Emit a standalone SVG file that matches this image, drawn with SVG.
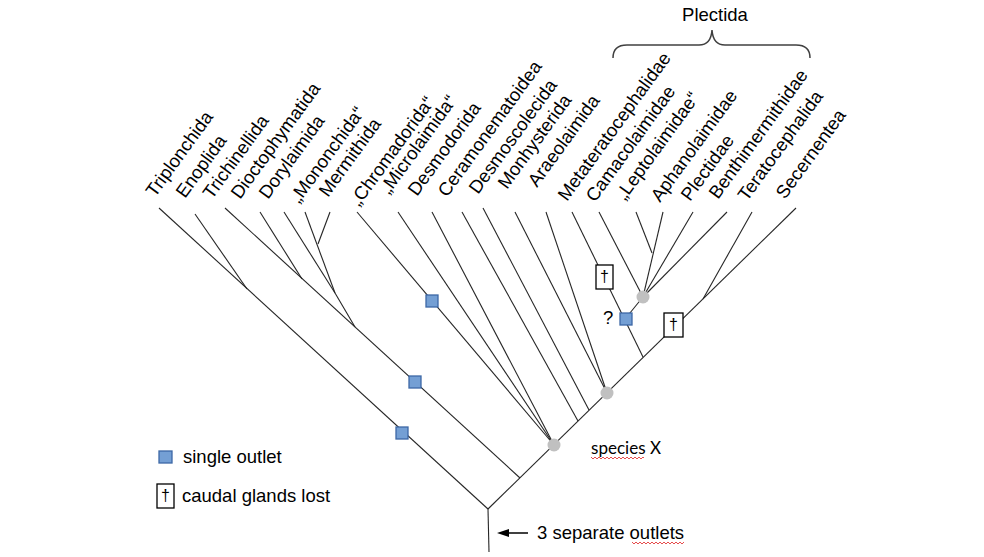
<svg xmlns="http://www.w3.org/2000/svg" width="984" height="557" viewBox="0 0 984 557">
<defs>
<style>
.lbl{font-family:"Liberation Sans",Arial,sans-serif;font-size:18.5px;fill:#000}
.br{stroke:#262626;stroke-width:1.1;fill:none}
.sq{fill:#749fd4;stroke:#3d68a6;stroke-width:1.3}
.nd{fill:#c0c0c0}
.dg{fill:#fff;stroke:#000;stroke-width:1.3}
.dag{font-family:"Liberation Sans",Arial,sans-serif;font-size:16px;text-anchor:middle}
.wavy{fill:none;stroke:#e02020;stroke-width:0.8}
</style>
</defs>
<rect width="984" height="557" fill="#fff"/>

<g id="connectors">
<path class="br" d="M159,208 L488,509"/>
<path class="br" d="M195,214 L247,289"/>
<path class="br" d="M225,208 L520,478"/>
<path class="br" d="M260,212 L302,279"/>
<path class="br" d="M284,212 L335,293"/>
<path class="br" d="M305,212 L335,293"/>
<path class="br" d="M330,212 L318,244"/>
<path class="br" d="M335,293 L355,327"/>
<path class="br" d="M357,212 L554,445"/>
<path class="br" d="M398,212 L554,445"/>
<path class="br" d="M432,212 L554,445"/>
<path class="br" d="M462,212 L578,421"/>
<path class="br" d="M483,208 L589,410"/>
<path class="br" d="M515,212 L607,393"/>
<path class="br" d="M546,212 L607,393"/>
<path class="br" d="M572,212 L643,357"/>
<path class="br" d="M599,212 L643,297"/>
<path class="br" d="M636,212 L652,253"/>
<path class="br" d="M663,212 L643,297"/>
<path class="br" d="M693,212 L643,297"/>
<path class="br" d="M727,212 L643,297"/>
<path class="br" d="M643,297 L625,319"/>
<path class="br" d="M752,212 L703,299"/>
<path class="br" d="M488,509 L796,208"/>
<path class="br" d="M488,509 L489,552"/>
<g id="arrow">
<path d="M528,533 L507,533" stroke="#000" stroke-width="1.5" fill="none"/>
<path d="M497,533 L509,529 L509,537 z" fill="#000"/>
</g>
</g>

<g id="nodes">
<circle id="speciesX-node" class="nd" cx="554" cy="445" r="6.5"/>
<circle id="node2" class="nd" cx="607" cy="393" r="6.5"/>
<circle id="plectid-node" class="nd" cx="643" cy="297" r="6.5"/>
<rect id="sq-chromadorida" class="sq" x="426" y="295" width="12" height="12"/>
<rect id="sq-trichinellida" class="sq" x="409" y="376" width="12" height="12"/>
<rect id="sq-triplonchida" class="sq" x="396" y="427" width="12" height="12"/>
<rect id="sq-plectida" class="sq" x="620" y="313" width="12" height="12"/>
<g id="dagger-metatera"><rect class="dg" x="596" y="265" width="17" height="24"/><text class="dag" x="604.5" y="282">†</text></g>
<g id="dagger-trunk"><rect class="dg" x="664" y="313" width="19" height="24"/><text class="dag" x="673.5" y="330">†</text></g>
<text id="qmark" class="lbl" x="603" y="324">?</text>
</g>

<g id="labels">
<text class="lbl" transform="translate(155,198) rotate(-54)">Triplonchida</text>
<text class="lbl" transform="translate(185,199) rotate(-54)">Enoplida</text>
<text class="lbl" transform="translate(212,200) rotate(-54)">Trichinellida</text>
<text class="lbl" transform="translate(240,200) rotate(-54)">Dioctophymatida</text>
<text class="lbl" transform="translate(268,200) rotate(-54)">Dorylaimida</text>
<text class="lbl" transform="translate(299,204) rotate(-54)">„Mononchida“</text>
<text class="lbl" transform="translate(328,198) rotate(-54)">Mermithida</text>
<text class="lbl" transform="translate(359,207) rotate(-54)">„Chromadorida“</text>
<text class="lbl" transform="translate(389,195) rotate(-54)">„Microlaimida“</text>
<text class="lbl" transform="translate(417,197) rotate(-54)">Desmodorida</text>
<text class="lbl" transform="translate(447,198) rotate(-54)">Ceramonematoidea</text>
<text class="lbl" transform="translate(478,195) rotate(-54)">Desmoscolecida</text>
<text class="lbl" transform="translate(507,190) rotate(-54)">Monhysterida</text>
<text class="lbl" transform="translate(537,188) rotate(-54)">Araeolaimida</text>
<text class="lbl" transform="translate(567,202) rotate(-54)">Metateratocephalidae</text>
<text class="lbl" transform="translate(595,203) rotate(-54)">Camacolaimidae</text>
<text class="lbl" transform="translate(625,201) rotate(-54)">„Leptolaimidae“</text>
<text class="lbl" transform="translate(660,203) rotate(-54)">Aphanolaimidae</text>
<text class="lbl" transform="translate(690,202) rotate(-54)">Plectidae</text>
<text class="lbl" transform="translate(718,200) rotate(-54)">Benthimermithidae</text>
<text class="lbl" transform="translate(747,202) rotate(-54)">Teratocephalida</text>
<text class="lbl" transform="translate(785,200) rotate(-54)">Secernentea</text>
</g>

<g id="plectida-bracket">
<path d="M613,58 Q613,45 627,45 L699,45 Q711,45 712,30 Q713,45 725,45 L796,45 Q810,45 810,58" fill="none" stroke="#404040" stroke-width="1.5"/>
<text class="lbl" x="715" y="21" text-anchor="middle">Plectida</text>
</g>

<g id="annotations">
<text x="591" y="454" font-family="Lato,'Open Sans',sans-serif" font-size="18" textLength="70" lengthAdjust="spacingAndGlyphs">species X</text>
<path class="wavy" d="M591,457 l2,2 l2,-2 l2,2 l2,-2 l2,2 l2,-2 l2,2 l2,-2 l2,2 l2,-2 l2,2 l2,-2 l2,2 l2,-2 l2,2 l2,-2 l2,2 l2,-2 l2,2 l2,-2 l2,2 l2,-2 l2,2 l2,-2 l2,2 l2,-2 l1,1"/>
<text class="lbl" x="537" y="539" font-size="18.67">3 separate outlets</text>
<path class="wavy" d="M632,542 l2,2 l2,-2 l2,2 l2,-2 l2,2 l2,-2 l2,2 l2,-2 l2,2 l2,-2 l2,2 l2,-2 l2,2 l2,-2 l2,2 l2,-2 l2,2 l2,-2 l2,2 l2,-2 l2,2 l2,-2 l2,2 l2,-2 l2,2 l2,-2"/>
</g>

<g id="legend">
<rect class="sq" x="159" y="451" width="13" height="12"/>
<text class="lbl" x="183" y="463" font-size="18.67">single outlet</text>
<rect class="dg" x="157" y="484" width="17" height="24"/>
<text class="dag" x="165.5" y="501">†</text>
<text class="lbl" x="182" y="502" font-size="18.67">caudal glands lost</text>
</g>
</svg>
